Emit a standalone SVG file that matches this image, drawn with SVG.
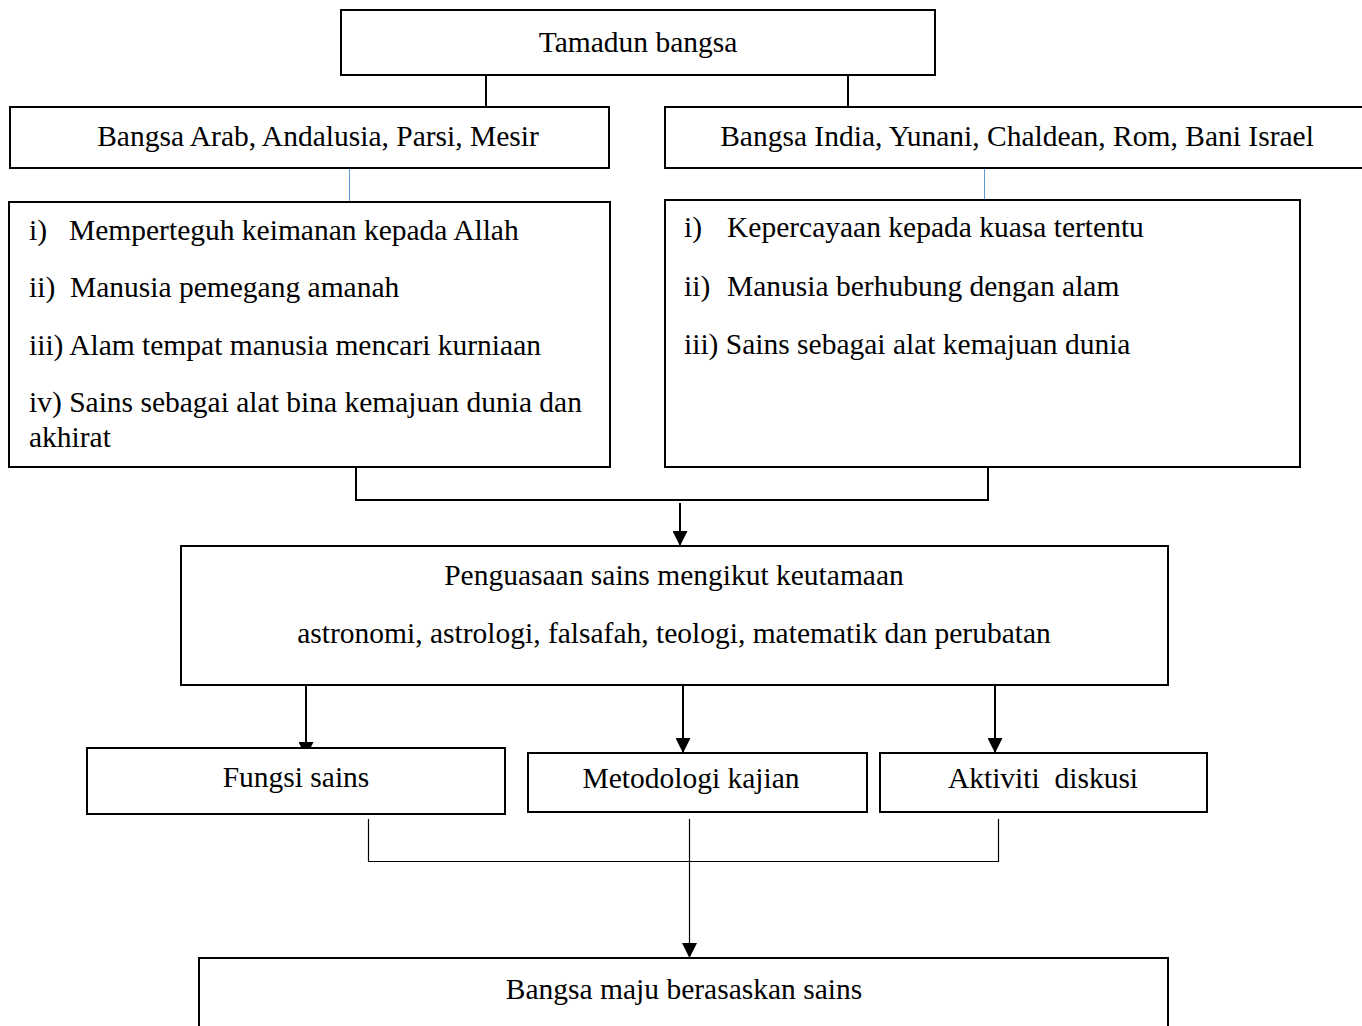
<svg xmlns="http://www.w3.org/2000/svg" width="1362" height="1026" viewBox="0 0 1362 1026">
<style>
.box{fill:#fff;stroke:#000;stroke-width:2}
.t{font-family:"Liberation Serif","Times New Roman",serif;font-size:29.5px;fill:#000}
.c{text-anchor:middle}
.ln{fill:none;stroke:#000;stroke-width:2}
.thin{fill:none;stroke:#000;stroke-width:1.2}
.blue{fill:none;stroke:#5B9BD5;stroke-width:1}
</style>
<defs>
<marker id="ah" viewBox="0 0 15 15" refX="15" refY="7.5" markerWidth="15" markerHeight="15" markerUnits="userSpaceOnUse" orient="auto">
<path d="M0,0 L15,7.5 L0,15 z" fill="#000"/>
</marker>
</defs>
<rect width="1362" height="1026" fill="#fff"/>
<g id="connectors">
<line class="ln" x1="486" y1="75" x2="486" y2="107"/>
<line class="ln" x1="848" y1="75" x2="848" y2="107"/>
<line class="blue" x1="349.5" y1="168" x2="349.5" y2="202"/>
<line class="blue" x1="984.5" y1="168" x2="984.5" y2="200"/>
<polyline class="ln" points="356,459 356,500 988,500 988,467"/>
<line class="ln" x1="680" y1="503" x2="680" y2="546" marker-end="url(#ah)"/>
<line class="ln" x1="306" y1="685" x2="306" y2="757" marker-end="url(#ah)"/>
<line class="ln" x1="683" y1="685" x2="683" y2="753" marker-end="url(#ah)"/>
<line class="ln" x1="995" y1="685" x2="995" y2="753" marker-end="url(#ah)"/>
<polyline class="thin" points="368.5,819 368.5,861.5 998.5,861.5 998.5,819"/>
<line class="thin" x1="689.5" y1="819" x2="689.5" y2="958" marker-end="url(#ah)"/>
</g>
<g id="tamadun"><rect class="box" x="341" y="10" width="594" height="65"/><text class="t c" x="638" y="52">Tamadun bangsa</text></g>
<g id="arab"><rect class="box" x="10" y="107" width="599" height="61"/><text class="t c" x="318" y="146">Bangsa Arab, Andalusia, Parsi, Mesir</text></g>
<g id="india"><rect class="box" x="665" y="107" width="698" height="61"/><text class="t c" x="1017" y="146">Bangsa India, Yunani, Chaldean, Rom, Bani Israel</text></g>
<g id="arab-list"><rect class="box" x="9" y="202" width="601" height="265"/>
<text class="t" x="29" y="240">i)</text><text class="t" x="69" y="240">Memperteguh keimanan kepada Allah</text>
<text class="t" x="29" y="297">ii)</text><text class="t" x="70" y="297">Manusia pemegang amanah</text>
<text class="t" x="29" y="355">iii) Alam tempat manusia mencari kurniaan</text>
<text class="t" x="29" y="412">iv) Sains sebagai alat bina kemajuan dunia dan</text>
<text class="t" x="29" y="447">akhirat</text>
</g>
<g id="india-list"><rect class="box" x="665" y="200" width="635" height="267"/>
<text class="t" x="684" y="237">i)</text><text class="t" x="727" y="237">Kepercayaan kepada kuasa tertentu</text>
<text class="t" x="684" y="296">ii)</text><text class="t" x="727" y="296">Manusia berhubung dengan alam</text>
<text class="t" x="684" y="354">iii) Sains sebagai alat kemajuan dunia</text>
</g>
<g id="penguasaan"><rect class="box" x="181" y="546" width="987" height="139"/>
<text class="t c" x="674" y="585">Penguasaan sains mengikut keutamaan</text>
<text class="t c" x="674" y="643">astronomi, astrologi, falsafah, teologi, matematik dan perubatan</text>
</g>
<g id="fungsi"><rect class="box" x="87" y="748" width="418" height="66"/><text class="t c" x="296" y="787">Fungsi sains</text></g>
<g id="metodologi"><rect class="box" x="528" y="753" width="339" height="59"/><text class="t c" x="691" y="788">Metodologi kajian</text></g>
<g id="aktiviti"><rect class="box" x="880" y="753" width="327" height="59"/><text class="t c" x="1043" y="788" xml:space="preserve">Aktiviti  diskusi</text></g>
<g id="maju"><rect class="box" x="199" y="958" width="969" height="80"/><text class="t c" x="684" y="999">Bangsa maju berasaskan sains</text></g>
</svg>
